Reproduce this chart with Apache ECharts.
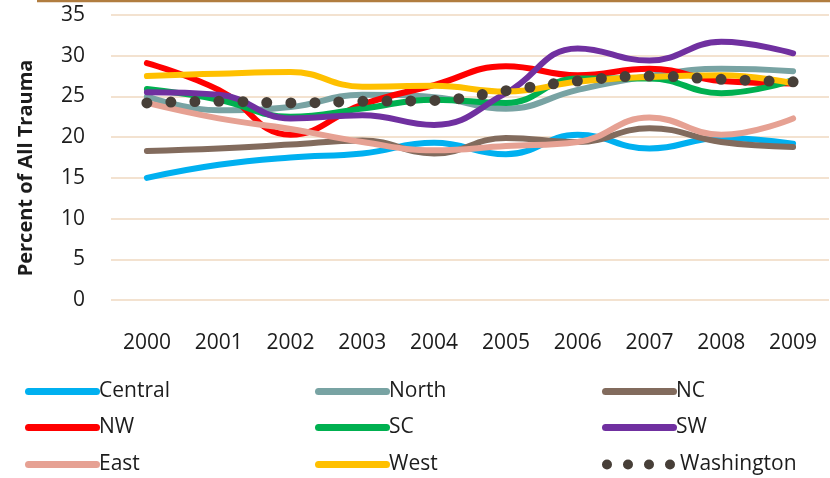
<!DOCTYPE html>
<html>
<head>
<meta charset="utf-8">
<script src="https://cdn.jsdelivr.net/npm/echarts@6/dist/echarts.min.js"></script>
<style>
  html, body { margin: 0; padding: 0; background: #fff; }
  #chart { width: 830px; height: 478px; }
</style>
</head>
<body>
<div id="chart"></div>
<script>
// Share of all trauma cases by region, 2000-2009 (percent)
const years = ['2000', '2001', '2002', '2003', '2004', '2005', '2006', '2007', '2008', '2009'];
const yTicks = { min: 0, max: 35, step: 5 };

const central    = [15.0, 16.6, 17.5, 18.0, 19.3, 17.9, 20.3, 18.6, 19.9, 19.2];
const north      = [25.0, 23.3, 23.7, 25.2, 24.9, 23.5, 25.8, 27.5, 28.4, 28.1];
const nc         = [18.3, 18.6, 19.1, 19.6, 18.0, 19.9, 19.4, 21.1, 19.4, 18.8];
const nw         = [29.1, 25.8, 20.3, 24.0, 26.4, 28.7, 27.6, 28.4, 26.9, 26.6];
const sc         = [25.9, 24.6, 22.5, 23.5, 24.6, 24.2, 27.2, 27.2, 25.4, 27.0];
const sw         = [25.5, 25.2, 22.3, 22.7, 21.5, 25.4, 30.9, 29.4, 31.7, 30.3];
const east       = [24.2, 22.3, 21.0, 19.4, 18.4, 18.9, 19.4, 22.4, 20.3, 22.3];
const west       = [27.5, 27.8, 28.0, 26.2, 26.3, 25.6, 26.8, 27.4, 27.6, 26.6];
const washington = [24.2, 24.4, 24.2, 24.4, 24.5, 25.7, 26.9, 27.5, 27.1, 26.8];

const seriesDefs = [
  { name: 'Central',    data: central,    color: '#00b0f0' },
  { name: 'North',      data: north,      color: '#78a3a3' },
  { name: 'NC',         data: nc,         color: '#826b5d' },
  { name: 'NW',         data: nw,         color: '#ff0000' },
  { name: 'SC',         data: sc,         color: '#00b050' },
  { name: 'SW',         data: sw,         color: '#7030a0' },
  { name: 'East',       data: east,       color: '#e6a193' },
  { name: 'West',       data: west,       color: '#ffc000' },
  { name: 'Washington', data: washington, color: '#473f38', dotted: true }
];

const FONT = '"Open Sans", sans-serif';
const TEXT = '#1c1c1c';

const bar = 'path://M3.5,0L71.5,0A3.5,3.5,0,0,1,71.5,7L3.5,7A3.5,3.5,0,0,1,3.5,0Z';
const dots = 'path://' + [5, 26, 47, 68].map(c =>
  `M${c - 5},5a5,5 0 1,0 10,0a5,5 0 1,0 -10,0Z`).join('') + 'M73,5Z';

// legend placement: three columns, three rows
const legendCols = [20, 310, 597];
const legendRows = [389, 425, 462];
const legendOrder = [
  ['Central', 'North', 'NC'],
  ['NW', 'SC', 'SW'],
  ['East', 'West', 'Washington']
];
const legends = [];
legendOrder.forEach((row, r) => row.forEach((name, c) => {
  const def = seriesDefs.find(s => s.name === name);
  legends.push({
    data: [name],
    left: legendCols[c],
    top: legendRows[r] - 13,
    itemWidth: def.dotted ? 73 : 75,
    itemHeight: def.dotted ? 10 : 7,
    itemGap: 0,
    icon: def.dotted ? dots : bar,
    selectedMode: false,
    textStyle: {
      fontFamily: FONT, fontSize: 21, color: TEXT,
      padding: [0, 0, 0, def.dotted ? 0 : -6]
    }
  });
}));

const chart = echarts.init(document.getElementById('chart'), null, { renderer: 'canvas' });
chart.setOption({
  animation: false,
  backgroundColor: '#fff',
  grid: { left: 111, right: 1, top: 15, bottom: 178, containLabel: false },
  graphic: [{
    type: 'line',
    shape: { x1: 37, y1: 1, x2: 830, y2: 1 },
    style: { stroke: '#b17d40', lineWidth: 2.5 }
  }, {
    type: 'text',
    x: 26,
    y: 168,
    rotation: Math.PI / 2,
    style: {
      text: 'Percent of All Trauma',
      font: 'bold 20px "Open Sans", sans-serif',
      fill: TEXT,
      align: 'center',
      verticalAlign: 'middle'
    }
  }],
  legend: legends,
  xAxis: {
    type: 'category',
    data: years,
    boundaryGap: true,
    axisLine: { show: false },
    axisTick: { show: false },
    axisLabel: { margin: 33, fontFamily: FONT, fontSize: 21, color: TEXT }
  },
  yAxis: {
    type: 'value',
    min: yTicks.min,
    max: yTicks.max,
    interval: yTicks.step,
    axisLine: { show: false },
    axisTick: { show: false },
    axisLabel: { margin: 26, fontFamily: FONT, fontSize: 21, color: TEXT },
    splitLine: { lineStyle: { color: '#efd9c1', width: 1.5 } }
  },
  series: seriesDefs.map(s => ({
    name: s.name,
    type: 'line',
    data: s.data,
    smooth: 0.45,
    symbol: 'none',
    color: s.color,
    lineStyle: s.dotted
      ? { color: s.color, width: 11, type: [0, 24], cap: 'round' }
      : { color: s.color, width: 6, cap: 'round', join: 'round' }
  }))
});
</script>
</body>
</html>
